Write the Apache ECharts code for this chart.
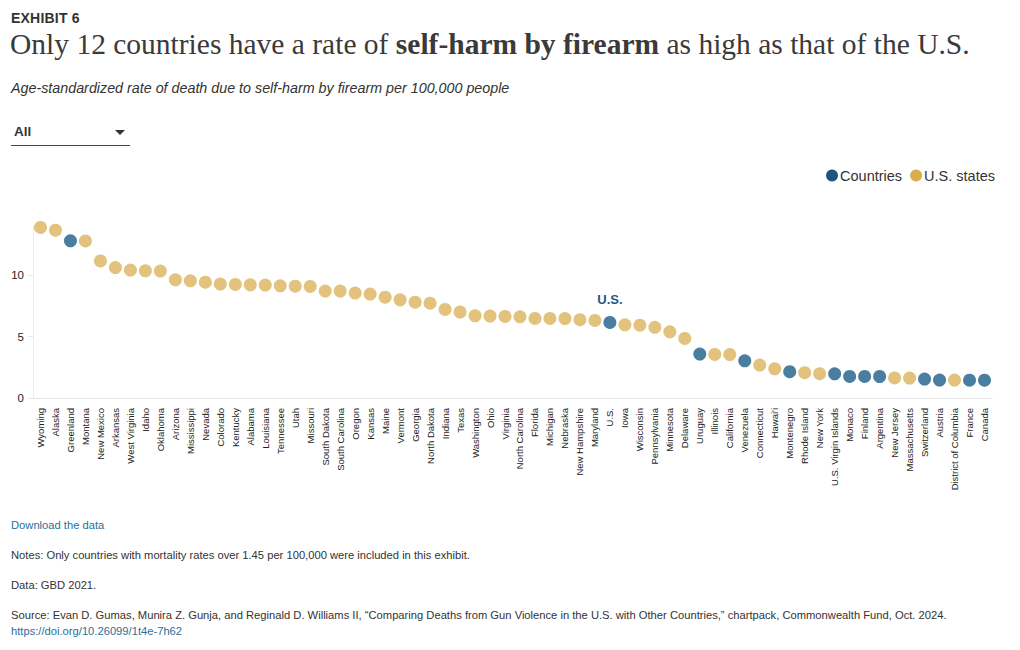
<!DOCTYPE html>
<html>
<head>
<meta charset="utf-8">
<script src="https://cdn.jsdelivr.net/npm/echarts@6/dist/echarts.min.js"></script>
<style>
  html, body { margin: 0; padding: 0; background: #fff; }
  body { width: 1020px; height: 650px; position: relative; overflow: hidden; font-family: "Liberation Sans", Arial, sans-serif; color: #333; }
  #chart { position: absolute; left: 0; top: 0; width: 1020px; height: 650px; }
  .t { position: absolute; white-space: nowrap; }
  #exhibit { left: 11px; top: 10px; font-size: 14px; font-weight: bold; color: #333; letter-spacing: 0.2px; }
  #title { left: 10px; top: 28px; font-family: "Liberation Serif", serif; font-size: 29.5px; color: #3a3a3a; }
  #title b { font-weight: bold; }
  #subtitle { left: 11px; top: 80px; font-size: 14.3px; font-style: italic; color: #333; }
  #dd { left: 11px; top: 120px; width: 119px; height: 25px; border-bottom: 1.5px solid #444; }
  #dd span { position: absolute; left: 3px; top: 4px; font-size: 13.5px; font-weight: bold; color: #333; }
  #dd i { position: absolute; left: 104px; top: 10px; width: 0; height: 0; border-left: 5px solid transparent; border-right: 5px solid transparent; border-top: 5px solid #333; }
  .f { left: 11px; font-size: 11.2px; color: #333; }
  #dl { top: 519px; color: #2a6f97; }
  #notes { top: 549px; }
  #data { top: 579px; }
  #src { top: 609px; }
  #doi { top: 625px; color: #2a6f97; }
</style>
</head>
<body>
<div id="chart"></div>
<div class="t" id="exhibit">EXHIBIT 6</div>
<div class="t" id="title">Only 12 countries have a rate of <b>self-harm by firearm</b> as high as that of the U.S.</div>
<div class="t" id="subtitle">Age-standardized rate of death due to self-harm by firearm per 100,000 people</div>
<div class="t" id="dd"><span>All</span><i></i></div>
<div class="t f" id="dl">Download the data</div>
<div class="t f" id="notes">Notes: Only countries with mortality rates over 1.45 per 100,000 were included in this exhibit.</div>
<div class="t f" id="data">Data: GBD 2021.</div>
<div class="t f" id="src">Source: Evan D. Gumas, Munira Z. Gunja, and Reginald D. Williams II, “Comparing Deaths from Gun Violence in the U.S. with Other Countries,” chartpack, Commonwealth Fund, Oct. 2024.</div>
<div class="t f" id="doi">https://doi.org/10.26099/1t4e-7h62</div>
<script>
const categories = ["Wyoming","Alaska","Greenland","Montana","New Mexico","Arkansas","West Virginia","Idaho","Oklahoma","Arizona","Mississippi","Nevada","Colorado","Kentucky","Alabama","Louisiana","Tennessee","Utah","Missouri","South Dakota","South Carolina","Oregon","Kansas","Maine","Vermont","Georgia","North Dakota","Indiana","Texas","Washington","Ohio","Virginia","North Carolina","Florida","Michigan","Nebraska","New Hampshire","Maryland","U.S.","Iowa","Wisconsin","Pennsylvania","Minnesota","Delaware","Uruguay","Illinois","California","Venezuela","Connecticut","Hawai'i","Montenegro","Rhode Island","New York","U.S. Virgin Islands","Monaco","Finland","Argentina","New Jersey","Massachusetts","Switzerland","Austria","District of Columbia","France","Canada"];
const rates = [13.88,13.66,12.79,12.78,11.16,10.62,10.41,10.35,10.33,9.62,9.54,9.43,9.27,9.24,9.21,9.19,9.13,9.10,9.08,8.70,8.70,8.54,8.46,8.21,7.99,7.80,7.72,7.21,6.99,6.69,6.67,6.64,6.61,6.48,6.48,6.47,6.37,6.31,6.15,5.96,5.93,5.75,5.39,4.85,3.58,3.55,3.54,3.03,2.68,2.38,2.14,2.06,1.98,1.97,1.76,1.76,1.75,1.63,1.62,1.54,1.46,1.46,1.45,1.45];
const countries = ["Greenland","U.S.","Uruguay","Venezuela","Montenegro","U.S. Virgin Islands","Monaco","Finland","Argentina","Switzerland","Austria","France","Canada"];
const yTicks = [0, 5, 10];
const highlight = "U.S.";

const countryData = [], stateData = [];
categories.forEach((c, i) => {
  if (countries.includes(c)) {
    const pt = { value: [c, rates[i]] };
    if (c === highlight) {
      pt.label = { show: true, position: 'top', distance: 10, formatter: 'U.S.', fontSize: 13, fontWeight: 'bold', color: '#1e5a85', fontFamily: 'Liberation Sans' };
    }
    countryData.push(pt);
    stateData.push(null);
  } else {
    stateData.push([c, rates[i]]);
  }
});

const chart = echarts.init(document.getElementById('chart'), null, { renderer: 'svg' });
chart.setOption({
  animation: false,
  textStyle: { fontFamily: 'Liberation Sans' },
  legend: {
    top: 163, right: 20,
    itemWidth: 12, itemHeight: 12, itemGap: 8,
    icon: 'circle',
    textStyle: { fontSize: 14.5, color: '#333', padding: [0, 0, 0, -3] },
    data: [
      { name: 'Countries', itemStyle: { color: '#1b5582', opacity: 1 } },
      { name: 'U.S. states', itemStyle: { color: '#dcad4c', opacity: 1 } }
    ]
  },
  grid: { left: 33, right: 28, top: 226, bottom: 252, containLabel: false },
  xAxis: {
    type: 'category',
    data: categories,
    boundaryGap: true,
    axisLine: { lineStyle: { color: '#e6e6e6' } },
    axisTick: { show: false },
    axisLabel: { rotate: 90, interval: 0, fontSize: 9.5, color: '#222', margin: 10 }
  },
  yAxis: {
    type: 'value',
    min: 0, max: 14, interval: 5,
    axisLine: { show: true, lineStyle: { color: '#ececec' } },
    axisTick: { show: true, length: 5, lineStyle: { color: '#e6e6e6' } },
    splitLine: { show: false },
    axisLabel: { fontSize: 11.5, color: '#222', margin: 9, showMaxLabel: false,
      formatter: v => yTicks.includes(v) ? String(v) : '' }
  },
  series: [
    { name: 'U.S. states', type: 'scatter', data: stateData, symbolSize: 13, clip: false,
      itemStyle: { color: '#e3c27d', opacity: 1 } },
    { name: 'Countries', type: 'scatter', data: countryData, symbolSize: 13, clip: false,
      itemStyle: { color: '#4a7ea0', opacity: 1 } }
  ]
});
</script>
</body>
</html>
